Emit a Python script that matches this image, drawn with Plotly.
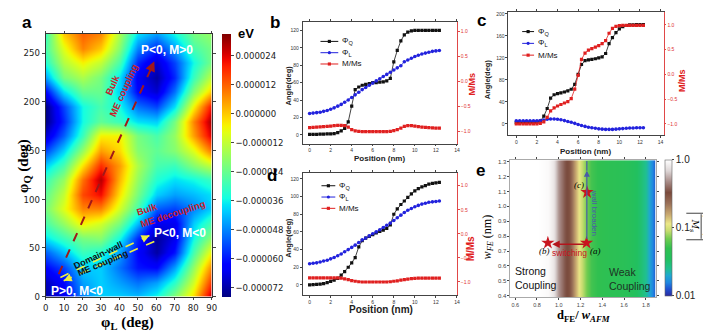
import numpy as np
import plotly.graph_objects as go

W, H = 711, 332
def px(x): return x / W
def py(y): return 1 - y / H

SANS = "Liberation Sans, Arial, sans-serif"
NARROW = "Liberation Sans Narrow, DejaVu Sans Condensed, Liberation Sans, sans-serif"
SERIF = "Liberation Serif, DejaVu Serif, serif"

# ---------------- panel a : energy landscape (1e-6 eV) ----------------
phi_L = [0, 10, 20, 30, 40, 50, 60, 70, 80, 90]
phi_Q = [0, 15, 30, 45, 60, 75, 90, 105, 120, 135, 150, 165, 180, 195, 210, 225, 240, 255, 270]
energy_ueV = [
    [-72, -65, -48, -40, -40, -42, -35, -20, -2, 28],
    [-70, -62, -45, -40, -45, -50, -45, -32, -10, 18],
    [-62, -55, -40, -40, -50, -60, -62, -45, -18, 8],
    [-52, -42, -30, -33, -45, -62, -72, -60, -28, -5],
    [-38, -30, -22, -20, -35, -58, -73, -65, -35, -18],
    [-28, -18, -5, -10, -22, -42, -65, -65, -40, -28],
    [-22, -8, 8, 8, -10, -28, -52, -55, -48, -40],
    [-25, -12, 15, 22, -3, -22, -40, -45, -42, -38],
    [-30, -18, 10, 28, 2, -18, -33, -38, -35, -30],
    [-40, -28, -3, 18, 5, -15, -28, -30, -20, -12],
    [-55, -40, -18, 5, -2, -20, -25, -20, -8, 10],
    [-68, -52, -30, -5, -5, -22, -28, -18, 5, 25],
    [-75, -58, -35, -25, -30, -38, -40, -22, 8, 30],
    [-75, -55, -35, -28, -35, -50, -55, -38, -5, 22],
    [-62, -38, -24, -24, -40, -62, -68, -50, -20, 0],
    [-45, -22, -15, -22, -38, -64, -72, -58, -30, -12],
    [-33, -14, -5, -12, -28, -58, -68, -55, -35, -22],
    [-28, -8, 8, 0, -20, -48, -58, -45, -28, -22],
    [-30, 0, 12, 8, -15, -38, -45, -35, -22, -18],
]
cbar_a_vals = [24, 12, 0, -12, -24, -36, -48, -60, -72]
cbar_a_text = ["0.000024", "0.000012", "0.000000", "\u22120.000012", "\u22120.000024",
               "\u22120.000036", "\u22120.000048", "\u22120.000060", "\u22120.000072"]

# ---------------- panels b, c, d : profiles ----------------
position_nm = [0, 0.33, 0.67, 1.0, 1.33, 1.67, 2.0, 2.33, 2.67, 3.0, 3.33, 3.67, 4.0, 4.33,
               4.67, 5.0, 5.33, 5.67, 6.0, 6.33, 6.67, 7.0, 7.33, 7.67, 8.0, 8.33, 8.67, 9.0,
               9.33, 9.67, 10.0, 10.33, 10.67, 11.0, 11.33, 11.67, 12.0, 12.33]

b_phiQ = [0.5, 0.5, 0.5, 0.7, 0.8, 1.0, 1.2, 1.5, 2.5, 4.5, 7.5, 15, 33, 52, 55, 57, 58, 59, 60,
          60, 60.5, 61, 62, 65, 84, 97, 108, 115, 118, 119.5, 120, 120, 120, 120, 120, 120, 120, 120]
b_phiL = [24.5, 25, 25.5, 26, 27, 28, 29.5, 31, 33, 35, 37.5, 40, 43, 46, 49, 52, 54.5, 57, 59.5,
          62, 64.5, 67, 69.5, 72, 74.5, 77, 79.5, 84, 86, 88, 90, 91.5, 93, 94, 95, 96, 96.5, 97]
b_MMs = [-0.92, -0.915, -0.91, -0.905, -0.9, -0.895, -0.89, -0.88, -0.875, -0.875, -0.88, -0.91,
         -0.96, -0.985, -0.995, -1.0, -1.0, -1.0, -1.0, -1.0, -1.0, -1.0, -1.0, -0.995, -0.98,
         -0.96, -0.93, -0.895, -0.88, -0.88, -0.89, -0.9, -0.91, -0.915, -0.92, -0.925, -0.93, -0.93]

c_phiQ = [2.5, 2.5, 2.5, 2.5, 2.5, 2.5, 3, 5, 14, 28, 47, 53, 55, 56.5, 58, 60, 63, 72, 90, 108,
          115, 116.5, 117.5, 118.5, 120, 122, 128, 146, 157, 166, 173, 177, 179, 180, 180, 180.5,
          180.5, 180.5]
c_phiL = [5.5, 5.5, 5.5, 5.5, 5.5, 5.5, 5.5, 6, 7, 8.5, 9, 9, 8.5, 7.5, 6, 4.5, 3, 1, -1, -3,
          -4.5, -6, -7, -8, -9, -9.5, -10, -10, -10, -9.5, -9, -8.5, -8, -7.5, -7.5, -7, -7, -7]
c_MMs = [-1.0, -1.0, -1.0, -1.0, -1.0, -1.0, -1.0, -0.99, -0.96, -0.87, -0.74, -0.68, -0.64,
         -0.61, -0.58, -0.55, -0.49, -0.3, -0.02, 0.3, 0.43, 0.49, 0.52, 0.55, 0.58, 0.62, 0.68,
         0.83, 0.93, 0.97, 0.985, 0.99, 0.99, 0.99, 0.99, 0.99, 0.99, 0.99]

d_phiQ = [0, 0.3, 0.6, 1, 1.5, 2.5, 4, 5.5, 7.5, 11, 15, 20, 25, 31, 43, 50, 53, 55, 57, 59,
          60.5, 62, 64, 68, 80, 86, 91, 95, 99, 103, 106.5, 109, 111, 112.5, 114, 115, 115.5, 116]
d_phiL = [24, 24.5, 25, 26, 27, 28, 29.5, 31, 33, 35, 37.5, 40, 42.5, 45, 48, 51, 53, 55.5, 58,
          60, 62.5, 65, 67.5, 70, 73, 76, 79, 82, 84.5, 86.5, 88.5, 90, 91.5, 92.5, 93.5, 94,
          94.5, 95]
d_MMs = [-0.915, -0.915, -0.915, -0.915, -0.915, -0.915, -0.915, -0.915, -0.915, -0.92, -0.935,
         -0.95, -0.97, -0.985, -0.995, -1.0, -1.0, -1.0, -1.0, -1.0, -1.0, -1.0, -1.0, -0.995,
         -0.985, -0.975, -0.96, -0.95, -0.94, -0.93, -0.925, -0.92, -0.92, -0.92, -0.92, -0.92,
         -0.92, -0.92]

# ---------------- panel e ----------------
e_ratio = [0.55, 0.6, 0.65, 0.7, 0.75, 0.8, 0.85, 0.9, 0.95, 1.0, 1.05, 1.1, 1.15, 1.2, 1.25,
           1.3, 1.35, 1.4, 1.45, 1.5, 1.55, 1.6, 1.65, 1.7, 1.75, 1.8, 1.85, 1.9]
e_dM = [1.0, 1.0, 1.0, 1.0, 1.0, 1.0, 0.98, 0.95, 0.8, 0.5, 0.36, 0.3, 0.16, 0.1, 0.07, 0.055,
        0.05, 0.048, 0.046, 0.045, 0.044, 0.042, 0.04, 0.036, 0.031, 0.024, 0.017, 0.012]
e_wfe = [0.39, 1.31]
star_x = [1.255, 0.9, 1.26]
star_y = [0.755, 0.755, 1.095]

# ---------------- colour scales ----------------
def jet(t):
    r = np.interp(t, [0, 0.35, 0.66, 0.89, 1], [0, 0, 1, 1, 0.5])
    g = np.interp(t, [0, 0.125, 0.375, 0.64, 0.91, 1], [0, 0, 1, 1, 0, 0])
    b = np.interp(t, [0, 0.11, 0.34, 0.65, 1], [0.5, 1, 1, 0, 0])
    return "rgb(%d,%d,%d)" % (r * 255, g * 255, b * 255)
jet_scale = [[float(t), jet(t)] for t in np.linspace(0, 1, 41)]

e_scale = [[0.0, '#2a2aa0'], [0.05, '#2050d0'], [0.1, '#2088e0'], [0.15, '#20a8d0'],
           [0.2, '#20c090'], [0.27, '#22c060'], [0.35, '#30c050'], [0.42, '#70cc50'],
           [0.48, '#c8dc70'], [0.53, '#ece888'], [0.6, '#c8a870'], [0.68, '#9a7058'],
           [0.76, '#7a4a3c'], [0.84, '#a88c88'], [0.92, '#ddd6d6'], [1.0, '#ffffff']]

fig = go.Figure()

# panel a heatmap
fig.add_trace(go.Heatmap(
    x=phi_L, y=phi_Q, z=energy_ueV, zsmooth='best', colorscale=jet_scale,
    zmin=-75.6, zmax=32.9, xaxis='x', yaxis='y', hoverinfo='skip',
    colorbar=dict(x=px(213), xanchor='left', y=py(159), yanchor='middle', len=268 / H,
                  thickness=9, xpad=0, ypad=0, outlinewidth=0, tickvals=cbar_a_vals,
                  ticktext=cbar_a_text, ticks='outside', ticklen=3,
                  tickfont=dict(size=9.5, family=NARROW, color='#222'))))

# panel e heatmap
e_log = [float(np.log10(v)) for v in e_dM]
fig.add_trace(go.Heatmap(
    x=e_ratio, y=e_wfe, z=[e_log, e_log], zsmooth='best', colorscale=e_scale,
    zmin=-2, zmax=0, xaxis='x5', yaxis='y8', hoverinfo='skip',
    colorbar=dict(x=px(661), xanchor='left', y=py((154 + 292) / 2), yanchor='middle',
                  len=138 / H, thickness=7, xpad=0, ypad=0, outlinewidth=0.6,
                  outlinecolor='#666', tickvals=[-2, -1, 0], ticktext=['0.01', '0.1', '1.0'],
                  ticks='outside', ticklen=2, tickfont=dict(size=10, family=SANS, color='#222'))))

BLK, BLU, RED = '#111111', '#2222dd', '#e02020'
def profile(xa, ya, yr, q, l, m):
    fig.add_trace(go.Scatter(x=position_nm, y=q, mode='lines+markers', xaxis=xa, yaxis=ya,
                             line=dict(color=BLK, width=0.8), marker=dict(symbol='square', size=3.2, color=BLK)))
    fig.add_trace(go.Scatter(x=position_nm, y=l, mode='lines+markers', xaxis=xa, yaxis=ya,
                             line=dict(color=BLU, width=0.8), marker=dict(symbol='circle', size=3.6, color=BLU)))
    fig.add_trace(go.Scatter(x=position_nm, y=m, mode='lines+markers', xaxis=xa, yaxis=yr,
                             line=dict(color=RED, width=0.8), marker=dict(symbol='square', size=3.2, color=RED)))

profile('x2', 'y2', 'y3', b_phiQ, b_phiL, b_MMs)
profile('x3', 'y4', 'y5', c_phiQ, c_phiL, c_MMs)
profile('x4', 'y6', 'y7', d_phiQ, d_phiL, d_MMs)

fig.add_trace(go.Scatter(x=star_x, y=star_y, mode='markers', xaxis='x5', yaxis='y8',
                         marker=dict(symbol='star', size=10, color='#c8141e')))

tick_small = dict(size=5, family=SANS, color='#333')
def xax(dom, anchor, rng, dtick, font=tick_small, **kw):
    d = dict(domain=dom, anchor=anchor, range=rng, dtick=dtick, tick0=0, showline=True,
             linecolor='#444', linewidth=0.7, mirror='ticks', ticks='outside', ticklen=2,
             tickwidth=0.6, tickfont=font, showgrid=False, zeroline=False)
    d.update(kw)
    return d
def yax(dom, anchor, rng, dtick, font=tick_small, **kw):
    d = dict(domain=dom, anchor=anchor, range=rng, dtick=dtick, tick0=0, showline=True,
             linecolor='#444', linewidth=0.7, ticks='outside', ticklen=2, tickwidth=0.6,
             tickfont=font, showgrid=False, zeroline=False)
    d.update(kw)
    return d
def yright(over, anchor, rng):
    return dict(overlaying=over, anchor=anchor, side='right', range=rng, dtick=0.5, tick0=0,
                tickformat='.1f', showline=True, linecolor='#e04848', linewidth=0.7,
                ticks='outside', ticklen=2, tickwidth=0.6, tickcolor='#e04848',
                tickfont=dict(size=5, family=SANS, color='#e03030'), showgrid=False, zeroline=False)

a_font = dict(size=9.5, family=NARROW, color='#222')
fig.update_layout(
    width=W, height=H, margin=dict(l=0, r=0, t=0, b=0), showlegend=False,
    paper_bgcolor='white', plot_bgcolor='white',
    xaxis=xax([px(35), px(203)], 'y', [0, 90], 10, font=a_font, ticklen=2, linecolor='#333'),
    yaxis=yax([py(293), py(25)], 'x', [0, 270], 50, font=a_font, ticklen=3, mirror='ticks', linecolor='#333'),
    xaxis2=xax([px(295), px(451)], 'y2', [-0.66, 14], 2),
    yaxis2=yax([py(137), py(13)], 'x2', [-10, 130], 20),
    yaxis3=yright('y2', 'x2', [-1.24, 1.2]),
    xaxis3=xax([px(503), px(660)], 'y4', [-0.77, 14.29], 2),
    yaxis4=yax([py(128), py(3)], 'x3', [-19.6, 203.6], 40),
    yaxis5=yright('y4', 'x3', [-1.22, 1.26]),
    xaxis4=xax([px(295), px(451)], 'y6', [-0.66, 14], 2),
    yaxis6=yax([py(291), py(167)], 'x4', [-11.1, 126.7], 20),
    yaxis7=yright('y6', 'x4', [-1.265, 1.265]),
    xaxis5=xax([px(505), px(652)], 'y8', [0.555, 1.89], 0.2, tick0=0.6, tickformat='.1f',
               font=dict(size=5.5, family=SANS, color='#444'), linecolor='#aaa'),
    yaxis8=yax([py(293.5), py(154)], 'x5', [0.39, 1.31], 0.1, tick0=0.4, tickformat='.1f',
               font=dict(size=6, family=SANS, color='#444'), linecolor='#aaa', mirror='ticks'),
)

anns = []
shapes = []
def pann(text, X, Y, size, color='black', angle=0, family=SANS, xanchor='center', align='center'):
    anns.append(dict(text=text, x=px(X), y=py(Y), xref='paper', yref='paper', showarrow=False,
                     textangle=angle, xanchor=xanchor, yanchor='middle', align=align,
                     font=dict(size=size, color=color, family=family)))
def dann(text, x, y, xr, yr, size, color='black', angle=0, family=SANS, xanchor='center', align='center'):
    anns.append(dict(text=text, x=x, y=y, xref=xr, yref=yr, showarrow=False, textangle=angle,
                     xanchor=xanchor, yanchor='middle', align=align,
                     font=dict(size=size, color=color, family=family)))
def arrow(x0, y0, x1, y1, xr, yr, color, width, head=2, size=1.0):
    anns.append(dict(text='', x=x1, y=y1, ax=x0, ay=y0, xref=xr, yref=yr, axref=xr, ayref=yr,
                     showarrow=True, arrowhead=head, arrowsize=size, arrowwidth=width,
                     arrowcolor=color))
def pline(x0, y0, x1, y1, color, width):
    shapes.append(dict(type='line', xref='paper', yref='paper', x0=px(x0), y0=py(y0),
                       x1=px(x1), y1=py(y1), line=dict(color=color, width=width)))

# panel letters
for t, X, Y in [('a', 16, 14), ('b', 267, 14), ('c', 476, 12), ('d', 264, 170), ('e', 475, 164)]:
    pann('<b>%s</b>' % t, X, Y, 17)

# panel a texts
pann('<b>eV</b>', 238, 25, 13)
pann('<b>\u03c6<sub>L</sub> (deg)</b>', 118, 320, 15, family=SERIF)
pann('<b>\u03c6<sub>Q</sub> (deg)</b>', 13, 160, 15, angle=-90, family=SERIF)
dann('<b>P&lt;0, M&gt;0</b>', 66, 253, 'x', 'y', 12, color='white')
dann('<b>P&lt;0, M&lt;0</b>', 73, 65.5, 'x', 'y', 12, color='white')
dann('<b>P&gt;0, M&lt;0</b>', 17, 6, 'x', 'y', 12, color='white')
dann('<b>Bulk<br>ME coupling</b>', 39, 215, 'x', 'y', 9.5, color='#c8202a', angle=-66)
dann('<b>Bulk<br>ME decoupling</b>', 68, 92, 'x', 'y', 9.5, color='#c8202a', angle=-18, align='left')
dann('<b>Domain-wall</b>', 28.9, 42.3, 'x', 'y', 9, color='#111', angle=-25)
dann('<b>ME coupling</b>', 31.1, 34.3, 'x', 'y', 9, color='#111', angle=-23)

shapes.append(dict(type='line', xref='x', yref='y', x0=7.1, y0=23.2, x1=58.9, y1=241.5,
                   line=dict(color='#a01818', width=2, dash='dash')))
arrow(56.8, 232.6, 58.9, 241.5, 'x', 'y', '#a01818', 2)
shapes.append(dict(type='line', xref='x', yref='y', x0=8.0, y0=19.8, x1=56.25, y1=62.8,
                   line=dict(color='#f0f040', width=1.6, dash='dash')))
arrow(52.0, 59.0, 56.25, 62.8, 'x', 'y', '#f0f040', 1.6)
shapes.append(dict(type='line', xref='x', yref='y', x0=58.9, y0=56.7, x1=9.8, y1=16.4,
                   line=dict(color='#f0f040', width=1.6, dash='dash')))
arrow(14.0, 19.9, 9.8, 16.4, 'x', 'y', '#f0f040', 1.6)

# panel b/c/d axis titles
for X, Y in [(281, 78), (482, 72), (281, 233)]:
    pann('<b>Angle(deg)</b>', X, Y, 7.5, angle=-90, color='#222')
for X, Y, s in [(466, 76, 9), (678, 73, 9), (465, 244, 10)]:
    pann('<b>M/Ms</b>', X, Y, s, angle=-90, color='#e02020')
pann('<b>Position (nm)</b>', 373, 152, 8, color='#222')
pann('<b>Position (nm)</b>', 581, 145, 8, color='#222')
pann('<b>Position (nm)</b>', 374, 306, 10, color='#222')

# custom legends
def legend(gx0, gx1, ys, tx, size):
    items = [(BLK, 'square', '\u03a6<sub>Q</sub>'), (BLU, 'circle', '\u03a6<sub>L</sub>'), (RED, 'square', 'M/Ms')]
    for (col, sym, lab), Y in zip(items, ys):
        pline(gx0, Y, gx1, Y, col, 1)
        cx = (gx0 + gx1) / 2
        shapes.append(dict(type='rect' if sym == 'square' else 'circle', xref='paper', yref='paper',
                           x0=px(cx - 1.6), x1=px(cx + 1.6), y0=py(Y + 1.6), y1=py(Y - 1.6),
                           fillcolor=col, line=dict(width=0)))
        pann(lab, tx, Y, size, color='#111', xanchor='left')
legend(313, 331, [33, 44.5, 56], 333, 8)
legend(517, 529, [23, 35, 47], 531, 8)
legend(314, 328, [180, 191.5, 203], 330, 8)

# panel e texts
pann('<b>d<sub>FE</sub>/ <i>w<sub>AFM</sub></i></b>', 580, 313, 12.5, family=SERIF)
pann('<i>w<sub>FE</sub></i> (nm)', 482, 232, 12, angle=-90, family=SERIF)
# colour-bar title |<dM>/Ms| drawn as a rotated fraction
pann('<i>\u27e8\u0394M\u27e9</i>', 703.5, 221, 9, angle=90, family="DejaVu Serif, serif")
pann('<i>M<sub>s</sub></i>', 692, 221, 9, angle=90, family="DejaVu Serif, serif")
pline(698, 209, 698, 234, '#111', 0.8)
pline(683, 208, 709, 208, '#111', 0.8)
pline(683, 235, 709, 235, '#111', 0.8)

dann('Strong<br>Coupling', 0.582, 0.519, 'x5', 'y8', 10.5, color='#111', xanchor='left', align='left')
dann('Weak<br>Coupling', 1.445, 0.515, 'x5', 'y8', 10.5, color='#1d3324', xanchor='left', align='left')
dann('switching', 1.1, 0.688, 'x5', 'y8', 8.5, color='#c8141e')
dann('<i>(b)</i>', 0.873, 0.699, 'x5', 'y8', 9, family=SERIF)
dann('<i>(a)</i>', 1.336, 0.699, 'x5', 'y8', 9, family=SERIF)
dann('<i>(c)</i>', 1.19, 1.143, 'x5', 'y8', 9, family=SERIF)
dann('wall broaden', 1.33, 0.96, 'x5', 'y8', 8, color='#4a5aa8', angle=90)
arrow(1.245, 0.745, 0.94, 0.745, 'x5', 'y8', '#b4141c', 1.5)
arrow(1.258, 0.77, 1.258, 1.24, 'x5', 'y8', '#4a5aa8', 1.2)
shapes.append(dict(type='line', xref='x5', yref='y8', x0=1.258, x1=1.258, y0=1.24, y1=1.305,
                   line=dict(color='#4a5aa8', width=1.2)))

fig.update_layout(annotations=anns, shapes=shapes)
fig.write_html("out.html")
